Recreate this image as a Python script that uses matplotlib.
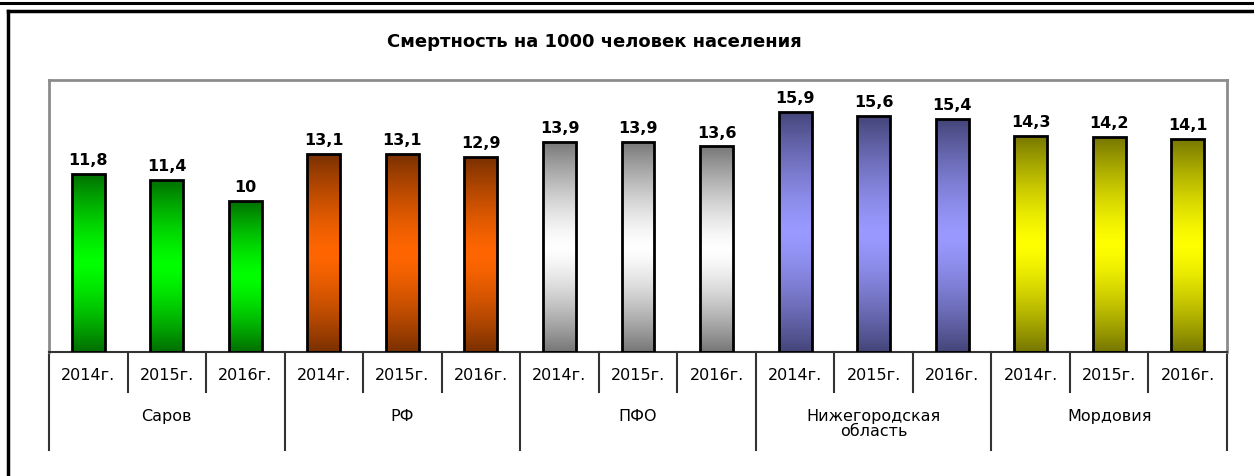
import matplotlib
matplotlib.use("Agg")
import matplotlib.pyplot as plt
import numpy as np
from matplotlib.lines import Line2D

plt.rcParams['font.family'] = ['DejaVu Sans']

title = "Смертность на 1000 человек населения"
groups = ["Саров", "РФ", "ПФО", "Нижегородская\nобласть", "Мордовия"]
years = ["2014г.", "2015г.", "2016г."]
values = [
    [11.8, 11.4, 10.0],
    [13.1, 13.1, 12.9],
    [13.9, 13.9, 13.6],
    [15.9, 15.6, 15.4],
    [14.3, 14.2, 14.1],
]
dark_colors = ["#006E00", "#7A3000", "#777777", "#45457A", "#767600"]
bright_colors = ["#00FF00", "#FF6600", "#FFFFFF", "#9999FF", "#FFFF00"]

W, H = 1254, 477
fig = plt.figure(figsize=(W / 100, H / 100), dpi=100)

# outer frame lines
fig.add_artist(Line2D([0, 1], [1 - 4 / H, 1 - 4 / H], color="black", lw=2.2, transform=fig.transFigure))
fig.add_artist(Line2D([7.5 / W, 1], [1 - 12 / H, 1 - 12 / H], color="black", lw=2.5, transform=fig.transFigure))
fig.add_artist(Line2D([7.5 / W, 7.5 / W], [0, 1 - 12 / H], color="black", lw=2.5, transform=fig.transFigure))

left, right, top, bottom = 49, 1227, 81, 353
ax = fig.add_axes([left / W, 1 - bottom / H, (right - left) / W, (bottom - top) / H])
axh = bottom - top

fig.text(594 / W, 1 - 42 / H, title, ha="center", va="center", fontsize=13, fontweight="bold")

bar_w = 0.42
n = len(groups) * len(years)
t = np.linspace(0, 1, 200)
f = 1 - np.abs(2 * t - 1) ** 1.4

for gi, gvals in enumerate(values):
    d = np.array(matplotlib.colors.to_rgb(dark_colors[gi]))
    b = np.array(matplotlib.colors.to_rgb(bright_colors[gi]))
    img = (d[None, :] + (b - d)[None, :] * f[:, None])[:, None, :]
    for yi, v in enumerate(gvals):
        x = gi * 3 + yi
        bar = ax.bar(x, v, width=bar_w, facecolor="none", edgecolor="black", linewidth=2, zorder=3)[0]
        im = ax.imshow(img, extent=(x - bar_w / 2, x + bar_w / 2, 0, v), aspect="auto",
                       interpolation="bilinear", zorder=2, origin="upper")
        im.set_clip_path(bar)
        lab = f"{v:g}".replace(".", ",")
        ax.annotate(lab, (x, v), xytext=(0, 5), textcoords="offset points",
                    ha="center", va="bottom", fontsize=11.5, fontweight="bold")

ax.set_xlim(-0.5, n - 0.5)
ax.set_ylim(0, 18)
ax.set_xticks([])
ax.set_yticks([])
for s in ["left", "top", "right"]:
    ax.spines[s].set_color("#8C8C8C")
    ax.spines[s].set_linewidth(2)
ax.spines["bottom"].set_color("#333333")
ax.spines["bottom"].set_linewidth(1.5)

tr = ax.get_xaxis_transform()
for i in range(n + 1):
    x = i - 0.5
    depth = 98 if i % 3 == 0 else 40
    ax.add_line(Line2D([x, x], [0, -depth / axh], color="#333333", lw=1.5, transform=tr, clip_on=False))
for i in range(n):
    ax.text(i, -23 / axh, years[i % 3], transform=tr, ha="center", va="center", fontsize=11.5, clip_on=False)
for gi, g in enumerate(groups):
    ax.text(gi * 3 + 1, -56 / axh, g, transform=tr, ha="center", va="top", fontsize=11.5,
            linespacing=1.0, clip_on=False)

fig.savefig("out.png", dpi=100)
